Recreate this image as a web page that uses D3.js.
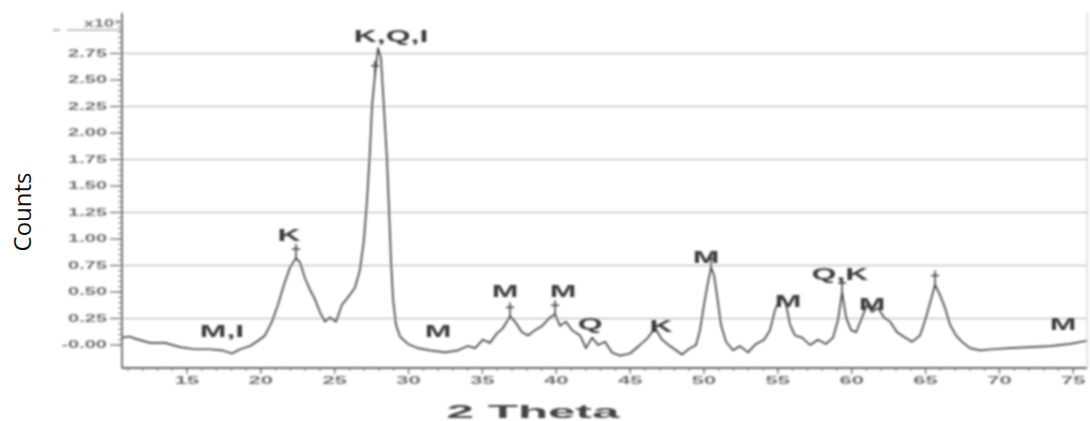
<!DOCTYPE html>
<html>
<head>
<meta charset="utf-8">
<script src="https://cdn.jsdelivr.net/npm/d3@7"></script>
<style>
  html, body { margin: 0; padding: 0; background: #fff; }
  svg { display: block; }
</style>
</head>
<body>
<svg id="chart" width="1090" height="421"></svg>
<script>
// XRD pattern: diffraction angle (2θ, degrees) and counts (×10³)
const twoTheta = [10.60, 11.14, 11.48, 12.49, 13.51, 14.53, 15.54, 16.56, 17.37, 18.05, 18.59, 19.27, 19.81, 20.28, 20.75, 21.16, 21.57, 21.97, 22.38, 22.65, 22.99, 23.33, 23.67, 24.00, 24.34, 24.68, 25.09, 25.49, 25.90, 26.37, 26.71, 26.98, 27.19, 27.39, 27.53, 27.73, 27.93, 28.13, 28.34, 28.54, 28.68, 28.81, 28.95, 29.15, 29.42, 29.96, 30.64, 31.45, 32.47, 33.35, 34.02, 34.50, 35.04, 35.51, 35.99, 36.39, 36.87, 37.21, 37.68, 38.09, 38.56, 39.04, 39.58, 39.92, 40.25, 40.66, 41.07, 41.61, 42.01, 42.42, 42.83, 43.30, 43.77, 44.32, 44.99, 45.67, 46.21, 46.69, 47.16, 47.70, 48.11, 48.51, 49.06, 49.46, 49.73, 50.00, 50.27, 50.48, 50.68, 50.88, 51.15, 51.49, 51.97, 52.44, 52.98, 53.52, 54.07, 54.47, 54.81, 55.15, 55.49, 55.83, 56.16, 56.64, 57.18, 57.72, 58.26, 58.74, 59.08, 59.35, 59.62, 59.96, 60.30, 60.70, 61.04, 61.38, 61.78, 62.19, 62.60, 63.07, 63.61, 64.09, 64.63, 65.03, 65.37, 65.64, 65.98, 66.32, 66.66, 67.06, 67.47, 68.01, 68.69, 69.50, 70.72, 72.07, 73.43, 74.78, 75.93];
const counts = [0.07, 0.08, 0.06, 0.02, 0.02, -0.02, -0.04, -0.04, -0.05, -0.08, -0.04, -0.01, 0.04, 0.09, 0.22, 0.38, 0.57, 0.73, 0.82, 0.78, 0.63, 0.52, 0.43, 0.31, 0.22, 0.26, 0.22, 0.38, 0.45, 0.54, 0.71, 0.99, 1.37, 1.84, 2.26, 2.55, 2.80, 2.71, 2.22, 1.75, 1.27, 0.80, 0.43, 0.19, 0.08, 0.01, -0.03, -0.05, -0.07, -0.05, -0.01, -0.03, 0.05, 0.02, 0.11, 0.16, 0.27, 0.22, 0.12, 0.09, 0.14, 0.18, 0.26, 0.29, 0.18, 0.22, 0.14, 0.09, -0.03, 0.07, 0.00, 0.03, -0.07, -0.10, -0.08, 0.00, 0.07, 0.16, 0.05, -0.01, -0.05, -0.09, -0.03, 0.00, 0.14, 0.38, 0.59, 0.73, 0.66, 0.47, 0.19, 0.03, -0.05, -0.01, -0.07, 0.01, 0.05, 0.14, 0.33, 0.44, 0.43, 0.19, 0.09, 0.07, 0.00, 0.05, 0.01, 0.07, 0.24, 0.50, 0.26, 0.14, 0.12, 0.26, 0.38, 0.31, 0.35, 0.26, 0.22, 0.12, 0.07, 0.03, 0.09, 0.26, 0.43, 0.57, 0.47, 0.35, 0.19, 0.09, 0.03, -0.03, -0.05, -0.04, -0.03, -0.02, -0.01, 0.01, 0.04];

// Phase labels (K kaolinite, Q quartz, I illite, M mineral) and their anchor positions
const phaseLabels = ["M,I", "K", "K,Q,I", "M", "M", "M", "Q", "K", "M", "M", "Q,K", "M", "M"];
const labelTheta  = [17.37, 21.91, 28.81, 31.99, 36.53, 40.46, 42.29, 47.09, 50.14, 55.69, 59.21, 61.38, 74.31];
const labelCounts = [0.075, 0.98, 2.86, 0.075, 0.45, 0.45, 0.14, 0.12, 0.77, 0.36, 0.61, 0.33, 0.14];

// Peaks flagged with a cross marker
const markerTheta  = [22.38, 27.73, 36.87, 39.92, 50.48, 59.35, 65.64];
const markerCounts = [0.82, 2.55, 0.27, 0.29, 0.73, 0.50, 0.57];

// Axis ticks
const xTickValues = [15, 20, 25, 30, 35, 40, 45, 50, 55, 60, 65, 70, 75];
const yTickValues = [0, 0.25, 0.5, 0.75, 1.0, 1.25, 1.5, 1.75, 2.0, 2.25, 2.5, 2.75];
const yTickLabels = ["-0.00", "0.25", "0.50", "0.75", "1.00", "1.25", "1.50", "1.75", "2.00", "2.25", "2.50", "2.75"];
const gridValues = [0.25, 0.75, 1.25, 1.75, 2.25, 2.75];
const yUnitLabel = "x10³";

const svg = d3.select("#chart");
const plotLeft = 122, plotRight = 1087, plotTop = 13, plotBottom = 368;

const x = d3.scaleLinear().domain([10.6, 75.93]).range([plotLeft, plotRight]);
const y = d3.scaleLinear().domain([-0.217, 3.132]).range([plotBottom, plotTop]);

// soft focus filter for the scanned plot
const defs = svg.append("defs");
defs.append("filter").attr("id", "soft")
  .attr("x", "-5%").attr("y", "-5%").attr("width", "110%").attr("height", "110%")
  .append("feGaussianBlur").attr("stdDeviation", 1.0);

const plot = svg.append("g").attr("filter", "url(#soft)");

// horizontal grid
plot.append("g").selectAll("line").data(gridValues).join("line")
  .attr("x1", plotLeft).attr("x2", plotRight)
  .attr("y1", d => y(d)).attr("y2", d => y(d))
  .attr("stroke", "#b0b0b0").attr("stroke-width", 1);

// right frame edge
plot.append("line")
  .attr("x1", plotRight).attr("x2", plotRight).attr("y1", plotTop).attr("y2", plotBottom)
  .attr("stroke", "#c4c4c4").attr("stroke-width", 1);

// stretched text helper (the plot's lettering is wide)
function wideText(g, str, px, py, anchor, sx, size, fill, weight) {
  return g.append("text")
    .attr("transform", `translate(${px},${py}) scale(${sx},1)`)
    .attr("text-anchor", anchor)
    .attr("font-family", "Liberation Sans, Arial, sans-serif")
    .attr("font-size", size)
    .attr("font-weight", weight || "bold")
    .attr("fill", fill)
    .text(str);
}

// y axis: minor and major ticks
const yMinor = d3.range(0, 62).map(i => +(i * 0.05).toFixed(2)).filter(v => y(v) > plotTop);
const yAxisG = plot.append("g");
yAxisG.selectAll("line.minor").data(yMinor).join("line")
  .attr("class", "minor")
  .attr("x1", plotLeft - 4).attr("x2", plotLeft)
  .attr("y1", d => y(d)).attr("y2", d => y(d))
  .attr("stroke", "#777").attr("stroke-width", 1);
yAxisG.selectAll("line.major").data(yTickValues).join("line")
  .attr("class", "major")
  .attr("x1", plotLeft - 12).attr("x2", plotLeft)
  .attr("y1", d => y(d)).attr("y2", d => y(d))
  .attr("stroke", "#666").attr("stroke-width", 1.2);
yTickValues.forEach((v, i) => {
  wideText(yAxisG, yTickLabels[i], plotLeft - 15, y(v) + 3.5, "end", 2, 10, "#707070");
});
// top multiplier tick and label
yAxisG.append("line")
  .attr("x1", 67).attr("x2", plotLeft).attr("y1", 30).attr("y2", 30)
  .attr("stroke", "#888").attr("stroke-width", 1);
yAxisG.append("line")
  .attr("x1", 53).attr("x2", 60).attr("y1", 30).attr("y2", 30)
  .attr("stroke", "#888").attr("stroke-width", 1.2);
wideText(yAxisG, yUnitLabel, 120, 27, "end", 1.8, 10, "#777");
yAxisG.append("line")
  .attr("x1", plotLeft).attr("x2", plotLeft).attr("y1", plotTop).attr("y2", plotBottom)
  .attr("stroke", "#777").attr("stroke-width", 2);

// x axis
const xMinor = d3.range(11, 76);
const xAxisG = plot.append("g");
xAxisG.selectAll("line.minor").data(xMinor).join("line")
  .attr("class", "minor")
  .attr("x1", d => x(d)).attr("x2", d => x(d))
  .attr("y1", plotBottom).attr("y2", plotBottom + 3)
  .attr("stroke", "#777").attr("stroke-width", 1);
xAxisG.selectAll("line.major").data(xTickValues).join("line")
  .attr("class", "major")
  .attr("x1", d => x(d)).attr("x2", d => x(d))
  .attr("y1", plotBottom).attr("y2", plotBottom + 6)
  .attr("stroke", "#666").attr("stroke-width", 1.2);
xTickValues.forEach(v => {
  wideText(xAxisG, String(v), x(v), 384, "middle", 2.2, 10, "#707070");
});
xAxisG.append("line")
  .attr("x1", plotLeft).attr("x2", plotRight).attr("y1", plotBottom).attr("y2", plotBottom)
  .attr("stroke", "#666").attr("stroke-width", 2);

// diffraction trace
const pts = twoTheta.map((t, i) => [t, counts[i]]);
plot.append("path")
  .datum(pts)
  .attr("fill", "none")
  .attr("stroke", "#444")
  .attr("stroke-width", 1.7)
  .attr("stroke-linejoin", "round")
  .attr("d", d3.line().x(d => x(d[0])).y(d => y(d[1])).curve(d3.curveLinear));

// peak markers
const markers = plot.append("g");
markerTheta.forEach((t, i) => {
  const mx = x(t), my = y(markerCounts[i]);
  markers.append("line").attr("x1", mx).attr("x2", mx).attr("y1", my).attr("y2", my - 14)
    .attr("stroke", "#444").attr("stroke-width", 1.6);
  markers.append("line").attr("x1", mx - 4).attr("x2", mx + 4).attr("y1", my - 9).attr("y2", my - 9)
    .attr("stroke", "#444").attr("stroke-width", 1.6);
});

// phase labels
const labels = plot.append("g");
phaseLabels.forEach((s, i) => {
  wideText(labels, s, x(labelTheta[i]), y(labelCounts[i]), "middle", 2, 16, "#3a3a3a");
});

// axis titles
wideText(plot, "2 Theta", 533, 418, "middle", 2.6, 19, "#444");

svg.append("text")
  .attr("transform", `translate(31,212) rotate(-90)`)
  .attr("text-anchor", "middle")
  .attr("font-family", "Open Sans, Liberation Sans, sans-serif")
  .attr("font-size", 24)
  .attr("fill", "#111")
  .text("Counts");
</script>
</body>
</html>
